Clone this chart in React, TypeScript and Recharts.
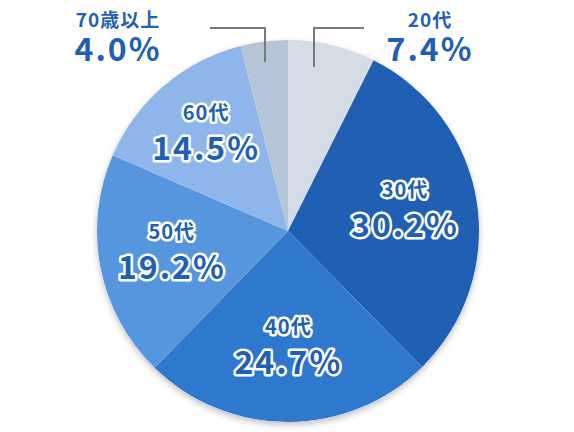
import React from "react";
import { PieChart, Pie, Cell } from "recharts";

const ageGroups = ["20代", "30代", "40代", "50代", "60代", "70歳以上"];
const shares = [7.4, 30.2, 24.7, 19.2, 14.5, 4.0];
const sliceColors = ["#d6dce6", "#1f5fb4", "#2e78cd", "#5596df", "#8fb6ea", "#b6c4d8"];
const outsideGroups = ["20代", "70歳以上"];

const chartData = ageGroups.map((name, i) => ({ name, value: shares[i] }));

const FONT = "'Noto Sans CJK JP', 'Noto Sans', sans-serif";
const BLUE = "#1f5fb4";
const RADIAN = Math.PI / 180;

function renderLabel(props: any) {
  const { cx, cy, midAngle, outerRadius, name, value } = props;
  const pct = `${Number(value).toFixed(1)}%`;
  if (outsideGroups.includes(name)) {
    const right = name === "20代";
    const lineX = right ? cx + 26 : cx - 23;
    const lineBottom = right ? cy - 164 : cy - 169;
    const elbowY = cy - 203;
    const lineEnd = right ? cx + 76 : cx - 78;
    const textX = right ? cx + 142 : cx - 170;
    return (
      <g>
        <polyline
          points={`${lineX},${lineBottom} ${lineX},${elbowY} ${lineEnd},${elbowY}`}
          fill="none"
          stroke="#7a7a7a"
          strokeWidth={2}
        />
        <text x={textX} y={cy - 204} textAnchor="middle" fill={BLUE} fontFamily={FONT} fontWeight={700} fontSize={19} letterSpacing={1}>
          {name}
        </text>
        <text x={textX} y={cy - 170} textAnchor="middle" fill={BLUE} fontFamily={FONT} fontWeight={700} fontSize={32} letterSpacing={2}>
          {pct}
        </text>
      </g>
    );
  }
  const r = outerRadius * (name === "60代" ? 0.66 : 0.62);
  const x = cx + r * Math.cos(-midAngle * RADIAN);
  const y = cy + r * Math.sin(-midAngle * RADIAN);
  const common = {
    textAnchor: "middle" as const,
    fill: BLUE,
    stroke: "#ffffff",
    strokeWidth: 5,
    strokeLinejoin: "round" as const,
    paintOrder: "stroke",
    fontFamily: FONT,
    fontWeight: 700,
  };
  return (
    <g>
      <text x={x} y={y - 15} fontSize={20} letterSpacing={1} {...common}>
        {name}
      </text>
      <text x={x} y={y + 25} fontSize={32} letterSpacing={2} {...common}>
        {pct}
      </text>
    </g>
  );
}

export default function App() {
  return (
    <div style={{ position: "absolute", left: 0, top: 0, width: 574, height: 432, background: "#fff" }}>
      <PieChart width={574} height={432}>
        <defs>
          <filter id="pieShadow" x="-10%" y="-10%" width="120%" height="120%">
            <feDropShadow dx="0" dy="3" stdDeviation="3" floodColor="#000" floodOpacity="0.25" />
          </filter>
        </defs>
        <Pie
          data={[{ value: 1 }]}
          dataKey="value"
          cx={283}
          cy={226}
          outerRadius={191}
          startAngle={90}
          endAngle={-270}
          stroke="none"
          isAnimationActive={false}
        >
          <Cell fill="#ffffff" filter="url(#pieShadow)" />
        </Pie>
        <Pie
          data={chartData}
          dataKey="value"
          nameKey="name"
          cx={283}
          cy={226}
          outerRadius={191}
          startAngle={90}
          endAngle={-270}
          stroke="none"
          labelLine={false}
          label={renderLabel}
          isAnimationActive={false}
        >
          {chartData.map((d, i) => (
            <Cell key={d.name} fill={sliceColors[i]} />
          ))}
        </Pie>
      </PieChart>
    </div>
  );
}
